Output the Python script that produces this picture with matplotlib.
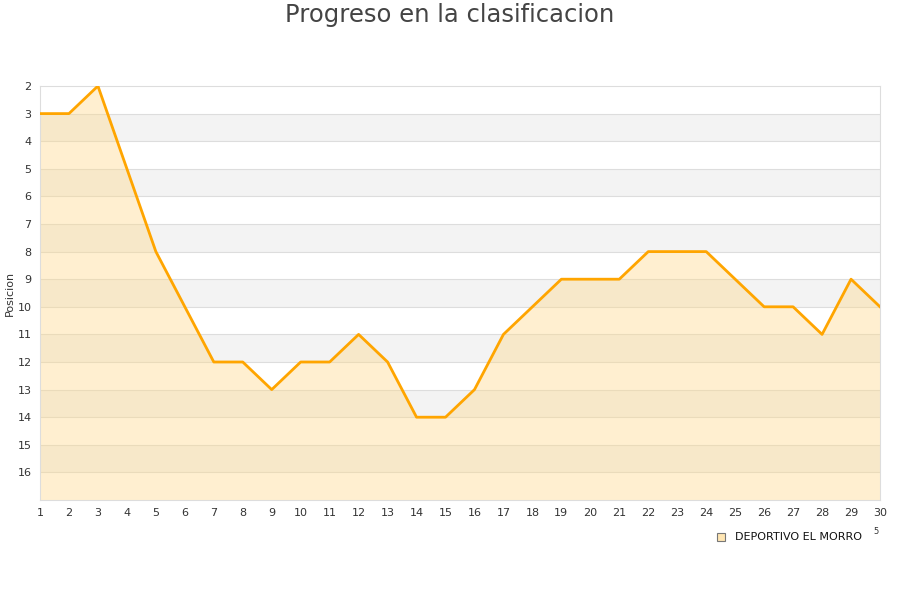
import matplotlib.pyplot as plt
from matplotlib.patches import Rectangle

jornadas = list(range(1, 31))
posiciones = [3, 3, 2, 5, 8, 10, 12, 12, 13, 12, 12, 11, 12, 14, 14,
              13, 11, 10, 9, 9, 9, 8, 8, 8, 9, 10, 10, 11, 9, 10]
equipo = "DEPORTIVO EL MORRO"

fig = plt.figure(figsize=(9, 6), dpi=100)
ax = fig.add_axes([40 / 900, 100 / 600, 840 / 900, 414 / 600])

# bandas alternas
for y in range(3, 17, 2):
    ax.axhspan(y, y + 1, color='#f3f3f3', zorder=0, lw=0)
for y in range(3, 17):
    ax.axhline(y, color='#dddddd', lw=0.8, zorder=1)

ax.fill_between(jornadas, posiciones, 17, color='#ffd98a', alpha=0.4, lw=0, zorder=2)
ax.plot(jornadas, posiciones, color='#ffa500', lw=2.0, zorder=3)

ax.set_xlim(1, 30)
ax.set_ylim(17, 2)
ax.set_xticks(jornadas)
ax.set_yticks(range(2, 17))
ax.tick_params(length=0, labelsize=8, colors='#333333', pad=6)
for s in ax.spines.values():
    s.set_color('#dddddd')
ax.set_ylabel("Posicion", fontsize=8, color='#333333', labelpad=2)

fig.text(0.5, 1 - 15 / 600, "Progreso en la clasificacion", ha='center', va='center',
         fontsize=17.5, color='#444444')

# leyenda
fig.patches.append(Rectangle((717 / 900, 1 - 541 / 600), 8 / 900, 8 / 600,
                             transform=fig.transFigure, facecolor='#ffe6b3',
                             edgecolor='#777777', lw=0.8))
fig.text(735 / 900, 1 - 537 / 600, equipo, fontsize=8, va='center', color='#111111')
fig.text(873 / 900, 1 - 532 / 600, "5", fontsize=6, va='center', color='#333333')

fig.savefig("out.png", dpi=100)
